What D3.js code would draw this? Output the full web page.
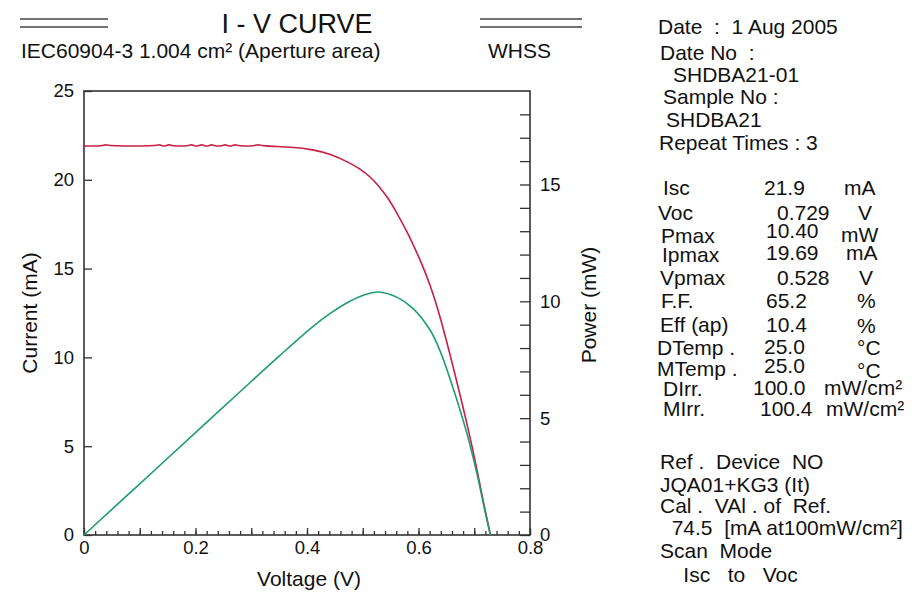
<!DOCTYPE html>
<html>
<head>
<meta charset="utf-8">
<script src="https://cdn.jsdelivr.net/npm/d3@7"></script>
<style>
  body { margin: 0; background: #fff; }
  svg { display: block; font-family: "Liberation Sans", Arial, sans-serif; }
</style>
</head>
<body>
<div class="main-chart"></div>
<script>
// I-V curve
const ivVoltage = [0, 0.034, 0.039, 0.044, 0.130, 0.135, 0.140, 0.147, 0.152, 0.157,
  0.188, 0.193, 0.198, 0.206, 0.211, 0.216, 0.224, 0.229, 0.234, 0.248, 0.253, 0.258,
  0.266, 0.271, 0.276, 0.307, 0.312, 0.317, 0.375, 0.411, 0.441, 0.477, 0.495, 0.513,
  0.528, 0.545, 0.561, 0.581, 0.603, 0.621, 0.639, 0.662, 0.687, 0.705, 0.718, 0.729];
const ivCurrent = [21.9, 21.9, 22.0, 21.9, 21.9, 22.0, 21.9, 21.9, 22.0, 21.9,
  21.9, 22.0, 21.9, 21.9, 22.0, 21.9, 21.9, 22.0, 21.9, 21.9, 22.0, 21.9,
  21.9, 22.0, 21.9, 21.9, 22.0, 21.9, 21.85, 21.7, 21.47, 20.95, 20.62, 20.18,
  19.69, 19.0, 18.15, 17.0, 15.5, 14.1, 12.3, 9.5, 6.3, 3.7, 1.6, 0];

// P-V curve
const powerVoltage = [0, 0.1, 0.2, 0.3, 0.352, 0.411, 0.441, 0.472, 0.5, 0.528,
  0.561, 0.59, 0.621, 0.639, 0.662, 0.687, 0.705, 0.718, 0.729];
const powerValues = [0, 2.19, 4.38, 6.57, 7.7, 8.93, 9.47, 9.94, 10.25, 10.40,
  10.18, 9.7, 8.76, 7.86, 6.29, 4.33, 2.61, 1.15, 0];

// ticks
const voltageTicks = [0, 0.2, 0.4, 0.6, 0.8];
const voltageTickLabels = [`0`, `0.2`, `0.4`, `0.6`, `0.8`];
const currentTicks = [0, 5, 10, 15, 20, 25];
const powerTicks = [0, 5, 10, 15];

// text block on the right
const headerLines = [`Date  :  1 Aug 2005`, `Date No  :`, `SHDBA21-01`, `Sample No :`, `SHDBA21`, `Repeat Times : 3`];
const paramNames = [`Isc`, `Voc`, `Pmax`, `Ipmax`, `Vpmax`, `F.F.`, `Eff (ap)`, `DTemp .`, `MTemp .`, `DIrr.`, `MIrr.`];
const paramValues = [`21.9`, `0.729`, `10.40`, `19.69`, `0.528`, `65.2`, `10.4`, `25.0`, `25.0`, `100.0`, `100.4`];
const paramUnits = [`mA`, `V`, `mW`, `mA`, `V`, `%`, `%`, `°C`, `°C`, `mW/cm²`, `mW/cm²`];
const footerLines = [`Ref .  Device  NO`, `JQA01+KG3 (It)`, `Cal .  VAl . of  Ref.`, `  74.5  [mA at100mW/cm²]`, `Scan  Mode`, `    Isc   to   Voc`];

const W = 912, H = 597;
const plot = {left: 84, right: 530, top: 91, bottom: 535};
const axisColor = `#333`;

const svg = d3.select(`.main-chart`).append(`svg`)
  .attr(`width`, W)
  .attr(`height`, H);

svg.append(`rect`).attr(`width`, W).attr(`height`, H).attr(`fill`, `#fff`);

const x = d3.scaleLinear().domain([0, 0.8]).range([plot.left, plot.right]);
const yI = d3.scaleLinear().domain([0, 25]).range([plot.bottom, plot.top]);
const yP = d3.scaleLinear().domain([0, 19]).range([plot.bottom, plot.top]);

// header
const lineL = [20, 108], lineR = [480, 582];
[lineL, lineR].forEach(function(l) {
  [19, 27].forEach(function(yy) {
    svg.append(`line`)
      .attr(`x1`, l[0]).attr(`x2`, l[1]).attr(`y1`, yy).attr(`y2`, yy)
      .attr(`stroke`, `#444`).attr(`stroke-width`, 1.3);
  });
});
svg.append(`text`).attr(`x`, 297).attr(`y`, 33)
  .attr(`text-anchor`, `middle`).attr(`font-size`, 27).attr(`fill`, `#111`)
  .text(`I - V CURVE`);
svg.append(`text`).attr(`x`, 21).attr(`y`, 58)
  .attr(`font-size`, 21).attr(`fill`, `#111`)
  .text(`IEC60904-3 1.004 cm² (Aperture area)`);
svg.append(`text`).attr(`x`, 488).attr(`y`, 58)
  .attr(`font-size`, 21).attr(`fill`, `#111`)
  .text(`WHSS`);

// axes
function styleAxis(g) {
  g.select(`.domain`).remove();
  g.selectAll(`line`).attr(`stroke`, axisColor).attr(`stroke-width`, 1.3);
  g.selectAll(`text`).attr(`font-size`, 18.5).attr(`fill`, `#111`)
    .attr(`font-family`, `"Liberation Sans", Arial, sans-serif`);
}

const minorVolt = d3.range(0, 41).map(function(i) { return i * 0.02; });
svg.append(`g`)
  .attr(`transform`, `translate(0,` + plot.bottom + `)`)
  .call(d3.axisBottom(x).tickValues(minorVolt).tickSize(-4).tickFormat(``))
  .call(styleAxis);
svg.append(`g`)
  .attr(`transform`, `translate(0,` + plot.bottom + `)`)
  .call(d3.axisBottom(x).tickValues(d3.range(0, 9).map(function(i) { return i * 0.1; })).tickSize(-7).tickFormat(``))
  .call(styleAxis);
svg.append(`g`)
  .attr(`transform`, `translate(0,` + plot.bottom + `)`)
  .call(d3.axisBottom(x).tickValues(voltageTicks).tickSize(0).tickPadding(6)
    .tickFormat(function(d, i) { return voltageTickLabels[i]; }))
  .call(styleAxis);

svg.append(`g`)
  .attr(`transform`, `translate(` + plot.left + `,0)`)
  .call(d3.axisLeft(yI).tickValues(currentTicks).tickSize(-8).tickPadding(10))
  .call(styleAxis);

svg.append(`g`)
  .attr(`transform`, `translate(` + plot.right + `,0)`)
  .call(d3.axisRight(yP).tickValues(d3.range(0, 19)).tickSize(-10).tickPadding(10)
    .tickFormat(function(d) { return powerTicks.includes(d) ? d : ``; }))
  .call(styleAxis);

// frame
svg.append(`rect`)
  .attr(`x`, plot.left).attr(`y`, plot.top)
  .attr(`width`, plot.right - plot.left).attr(`height`, plot.bottom - plot.top)
  .attr(`fill`, `none`).attr(`stroke`, axisColor).attr(`stroke-width`, 1.6);

// axis titles
svg.append(`text`)
  .attr(`transform`, `translate(37,313) rotate(-90)`)
  .attr(`text-anchor`, `middle`).attr(`font-size`, 21).attr(`fill`, `#111`)
  .text(`Current (mA)`);
svg.append(`text`)
  .attr(`transform`, `translate(596,305) rotate(-90)`)
  .attr(`text-anchor`, `middle`).attr(`font-size`, 21).attr(`fill`, `#111`)
  .text(`Power (mW)`);
svg.append(`text`)
  .attr(`x`, 309).attr(`y`, 586)
  .attr(`text-anchor`, `middle`).attr(`font-size`, 21).attr(`fill`, `#111`)
  .text(`Voltage (V)`);

// curves
const ivData = ivVoltage.map(function(v, i) { return {v: v, c: ivCurrent[i]}; });
const pData = powerVoltage.map(function(v, i) { return {v: v, p: powerValues[i]}; });

svg.append(`path`)
  .datum(ivData)
  .attr(`fill`, `none`).attr(`stroke`, `#c81f42`).attr(`stroke-width`, 1.6)
  .attr(`d`, d3.line().curve(d3.curveBasis)
    .x(function(d) { return x(d.v); })
    .y(function(d) { return yI(d.c); }));

svg.append(`path`)
  .datum(pData)
  .attr(`fill`, `none`).attr(`stroke`, `#1f9c76`).attr(`stroke-width`, 1.6)
  .attr(`d`, d3.line().curve(d3.curveCatmullRom)
    .x(function(d) { return x(d.v); })
    .y(function(d) { return yP(d.p); }));

// right panel
const headerPos = [[658, 34], [660, 60], [673, 82], [663, 104], [666, 127], [659, 150]];
headerLines.forEach(function(t, i) {
  svg.append(`text`).attr(`x`, headerPos[i][0]).attr(`y`, headerPos[i][1])
    .attr(`font-size`, 21).attr(`fill`, `#111`)
    .style(`white-space`, `pre`).text(t);
});

const nameX = [663, 658, 661, 662, 660, 661, 660, 657, 657, 663, 663];
const rowY = [195, 220, 243, 262, 285, 308, 332, 355, 376, 396, 416];
const valX = [764, 777, 766, 766, 777, 766, 766, 764, 764, 753, 760];
const valY = [195, 220, 238, 260, 285, 308, 332, 354, 373, 395, 416];
const unitX = [844, 858, 841, 846, 859, 857, 857, 857, 857, 824, 826];
const unitY = [195, 220, 242, 260, 285, 308, 333, 355, 378, 395, 416];
paramNames.forEach(function(n, i) {
  svg.append(`text`).attr(`x`, nameX[i]).attr(`y`, rowY[i])
    .attr(`font-size`, 21).attr(`fill`, `#111`).text(n);
  svg.append(`text`).attr(`x`, valX[i]).attr(`y`, valY[i])
    .attr(`font-size`, 21).attr(`fill`, `#111`).text(paramValues[i]);
  svg.append(`text`).attr(`x`, unitX[i]).attr(`y`, unitY[i])
    .attr(`font-size`, 21).attr(`fill`, `#111`).text(paramUnits[i]);
});

const footerY = [469, 492, 513, 535, 558, 582];
footerLines.forEach(function(t, i) {
  svg.append(`text`).attr(`x`, 660).attr(`y`, footerY[i])
    .attr(`font-size`, 21).attr(`fill`, `#111`)
    .style(`white-space`, `pre`).text(t);
});
</script>
</body>
</html>
